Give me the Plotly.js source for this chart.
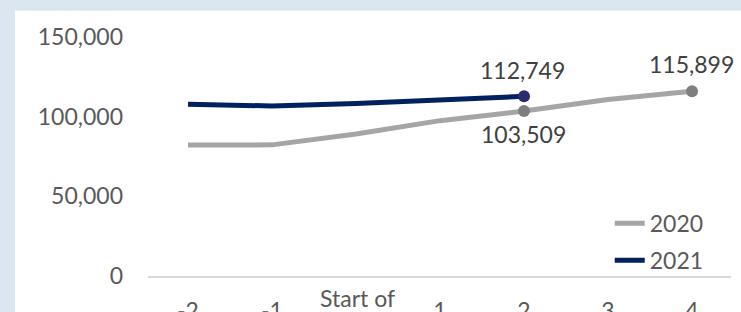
<!DOCTYPE html>
<html>
<head>
<meta charset="utf-8">
<script src="https://cdn.plot.ly/plotly-3.0.1.min.js"></script>
<style>html,body{margin:0;padding:0;background:#DCE6F1;}#chart{width:741px;height:312px;}</style>
</head>
<body>
<div id="chart"></div>
<script>
// ---- data ----
var categories = ['-2', '-1', 'Start of lockdown', '1', '2', '3', '4'];
var xTickText = ['-2', '-1', '', '1', '2', '3', '4'];
var centerLabel = 'Start of<br>lockdown';
var values2020 = [82200, 82300, 89100, 97500, 103509, 110800, 115899];
var values2021 = [107800, 106700, 108300, 110800, 112749];
var markerIdx2020 = [4, 6];
var markerIdx2021 = [4];
var yTickVals = [0, 50000, 100000, 150000];
var yTickText = ['0', '50,000', '100,000', '150,000'];
var seriesNames = ['2020', '2021'];

var FONT = 'Lato, "Open Sans", sans-serif';
var c2020 = '#A5A5A5', c2021 = '#002060';

function pick(arr, idx) { return idx.map(function (i) { return arr[i]; }); }
var cats2021 = categories.slice(0, values2021.length);

var traces = [
  { x: categories, y: values2020, name: seriesNames[0], type: 'scatter', mode: 'lines',
    line: { color: c2020, width: 5 }, legendgroup: 'a' },
  { x: cats2021, y: values2021, name: seriesNames[1], type: 'scatter', mode: 'lines',
    line: { color: c2021, width: 5 }, legendgroup: 'b' },
  { x: pick(categories, markerIdx2020), y: pick(values2020, markerIdx2020), type: 'scatter', mode: 'markers',
    marker: { color: '#7F7F7F', size: 12 }, showlegend: false, hoverinfo: 'skip' },
  { x: pick(categories, markerIdx2021), y: pick(values2021, markerIdx2021), type: 'scatter', mode: 'markers',
    marker: { color: '#2A2C70', size: 12 }, showlegend: false, hoverinfo: 'skip' }
];

function fmt(v) { return v.toLocaleString('en-US'); }

var annotations = [];
markerIdx2020.forEach(function (i) {
  var above = (i === 6);
  annotations.push({ x: i, y: values2020[i], xref: 'x', yref: 'y', text: fmt(values2020[i]),
    showarrow: false, yanchor: 'middle', yshift: above ? 27 : -23, xshift: -1,
    font: { family: FONT, size: 23, color: '#404040' } });
});
markerIdx2021.forEach(function (i) {
  annotations.push({ x: i, y: values2021[i], xref: 'x', yref: 'y', text: fmt(values2021[i]),
    showarrow: false, yanchor: 'middle', yshift: 26, xshift: -2,
    font: { family: FONT, size: 23, color: '#404040' } });
});
annotations.push({ x: 2, y: 0, xref: 'x', yref: 'paper', text: centerLabel,
  showarrow: false, yanchor: 'top', yshift: -6, xshift: 1,
  font: { family: FONT, size: 23, color: '#595959' } });

var layout = {
  width: 741, height: 312,
  margin: { l: 148, r: 10, t: 37, b: 36, pad: 0 },
  paper_bgcolor: '#DCE6F1',
  plot_bgcolor: 'rgba(0,0,0,0)',
  font: { family: FONT, size: 23, color: '#595959' },
  shapes: [{ type: 'rect', xref: 'paper', yref: 'paper', x0: -0.2281, x1: 1.1, y0: -0.4, y1: 1.11,
    fillcolor: '#FFFFFF', line: { width: 0 }, layer: 'below' }],
  xaxis: { type: 'category', range: [-0.476, 6.464], tickvals: categories, ticktext: xTickText,
    showgrid: false, zeroline: false, showline: true, linecolor: '#D9D9D9', linewidth: 2,
    ticks: '', ticklabelstandoff: 13, tickfont: { family: FONT, size: 23, color: '#595959' } },
  yaxis: { range: [0, 150000], tickvals: yTickVals, ticktext: yTickText, showgrid: false,
    zeroline: false, showline: false, ticks: '', ticklabelstandoff: 24,
    tickfont: { family: FONT, size: 23, color: '#595959' } },
  showlegend: true,
  legend: { x: 0.792, y: 0.31, xanchor: 'left', yanchor: 'top', bgcolor: 'rgba(0,0,0,0)',
    traceorder: 'grouped', tracegroupgap: 4, font: { family: FONT, size: 23, color: '#595959' } },
  annotations: annotations
};

Plotly.newPlot('chart', traces, layout, { staticPlot: true, displayModeBar: false });
</script>
</body>
</html>
